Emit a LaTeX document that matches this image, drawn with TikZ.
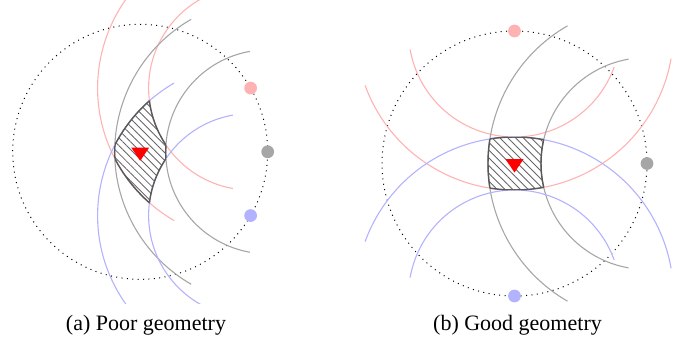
\documentclass[tikz,border=0pt]{standalone}
\usepackage{fontspec}
\setmainfont{Liberation Serif}
\usetikzlibrary{patterns.meta}
\newcommand\myClipAnn[3]{\clip (#1) circle[radius=#3] (#1) ++(0:#2) arc[start angle=0,end angle=-360,radius=#2];}
\newcommand\myBnd[7]{%
 \begin{scope}
  \clip (#1) circle[radius=60];
  \myClipAnn{#3}{#5}{#6}
  \myClipAnn{#4}{#5}{#6}
  \draw[outline] (#2) circle[radius=#7];
 \end{scope}}
\newcommand\myRegion[6]{%
 \begin{scope}
  \clip (#1) circle[radius=60];
  \myClipAnn{#2}{#5}{#6}
  \myClipAnn{#3}{#5}{#6}
  \myClipAnn{#4}{#5}{#6}
  \fill[hatch] (#1) circle[radius=60];
 \end{scope}
 \myBnd{#1}{#2}{#3}{#4}{#5}{#6}{#5}
 \myBnd{#1}{#2}{#3}{#4}{#5}{#6}{#6}
 \myBnd{#1}{#3}{#2}{#4}{#5}{#6}{#5}
 \myBnd{#1}{#3}{#2}{#4}{#5}{#6}{#6}
 \myBnd{#1}{#4}{#2}{#3}{#5}{#6}{#5}
 \myBnd{#1}{#4}{#2}{#3}{#5}{#6}{#6}}
\begin{document}
\begin{tikzpicture}[x=0.4545pt,y=0.4545pt,
  dot/.style={circle,inner sep=0pt,minimum size=5.8pt,draw=none},
  ring/.style={dotted,line width=0.45pt},
  parc/.style={red!30,line width=0.5pt},
  garc/.style={black!35,line width=0.5pt},
  barc/.style={blue!30,line width=0.5pt},
  outline/.style={black!65,line width=0.65pt},
  hatch/.style={pattern={Lines[angle=-45,distance=2.5pt,line width=0.4pt]},pattern color=black!60},
  captext/.style={anchor=base,font=\fontsize{10pt}{12pt}\selectfont}]
\useasboundingbox (0,0) rectangle (685,338);
% ---------- panel (a)
\coordinate (oa) at (140.2,186.2);
\draw[ring] (oa) circle[radius=127.5];
\node[dot,fill=red!30]   (pa) at ([shift={(30:127.5)}]oa) {};
\node[dot,fill=black!35] (ga) at ([shift={(0:127.5)}]oa) {};
\node[dot,fill=blue!30]  (ba) at ([shift={(-30:127.5)}]oa) {};
\begin{scope}
 \clip (0,34.4) rectangle (342,338);
 \draw[parc] (pa.center) ++(100:102) arc[start angle=100,end angle=260,radius=102];
 \draw[parc] (pa.center) ++(120:153) arc[start angle=120,end angle=240,radius=153];
 \draw[garc] (ga.center) ++(100:102) arc[start angle=100,end angle=260,radius=102];
 \draw[garc] (ga.center) ++(120:153) arc[start angle=120,end angle=240,radius=153];
 \draw[barc] (ba.center) ++(100:102) arc[start angle=100,end angle=260,radius=102];
 \draw[barc] (ba.center) ++(120:153) arc[start angle=120,end angle=240,radius=153];
\end{scope}
\myRegion{oa}{pa.center}{ga.center}{ba.center}{102}{153}
\fill[red] (oa) ++(-9,4.3) -- ++(18,0) -- ++(-9,-13.3) -- cycle;
\node[captext] (capa) at (146,7.5) {(a) Poor geometry};
% ---------- panel (b)
\coordinate (ob) at (514.5,174.5);
\draw[ring] (ob) circle[radius=132.5];
\node[dot,fill=red!30]   (pb) at ([shift={(90:132.5)}]ob) {};
\node[dot,fill=black!35] (gb) at ([shift={(0:132.5)}]ob) {};
\node[dot,fill=blue!30]  (bb) at ([shift={(270:132.5)}]ob) {};
\draw[parc] (pb.center) ++(190:106) arc[start angle=190,end angle=340,radius=106];
\draw[parc] (pb.center) ++(200:159) arc[start angle=200,end angle=350,radius=159];
\draw[garc] (gb.center) ++(100:106) arc[start angle=100,end angle=260,radius=106];
\draw[garc] (gb.center) ++(120:159) arc[start angle=120,end angle=240,radius=159];
\draw[barc] (bb.center) ++(20:106) arc[start angle=20,end angle=170,radius=106];
\draw[barc] (bb.center) ++(10:159) arc[start angle=10,end angle=160,radius=159];
\myRegion{ob}{pb.center}{gb.center}{bb.center}{106}{159}
\fill[red] (ob) ++(-9,4.3) -- ++(18,0) -- ++(-9,-13.3) -- cycle;
\node[captext] (capb) at (517.5,7.5) {(b) Good geometry};
\end{tikzpicture}
\end{document}
